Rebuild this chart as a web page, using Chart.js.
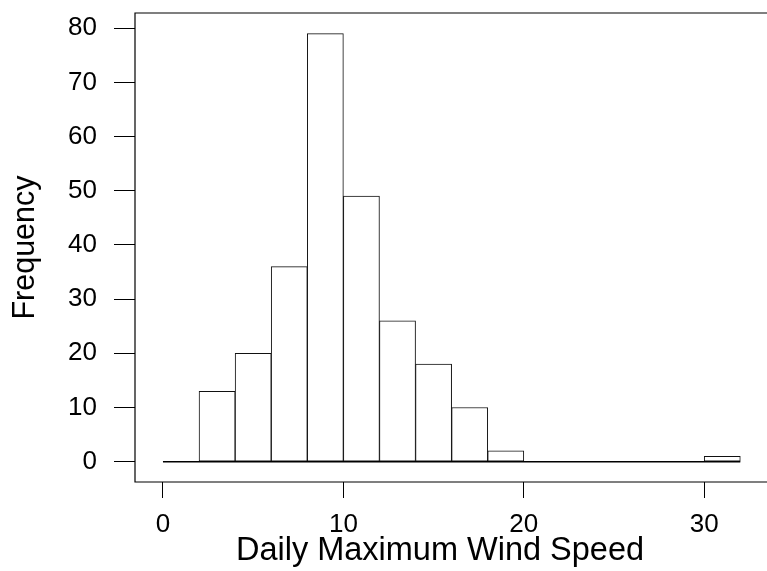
<!DOCTYPE html>
<html>
<head>
<meta charset="utf-8">
<script src="https://cdn.jsdelivr.net/npm/chart.js@4.4.0/dist/chart.umd.min.js"></script>
<style>
  body { margin: 0; background: #fff; }
  canvas { display: block; }
</style>
</head>
<body>
<canvas id="histChart" width="767" height="571"></canvas>
<script>
// histogram bins (width 2) and counts
const binEdges = [0, 2, 4, 6, 8, 10, 12, 14, 16, 18, 20, 22, 24, 26, 28, 30, 32];
const counts = [0, 13, 20, 36, 79, 49, 26, 18, 10, 2, 0, 0, 0, 0, 0, 1];
const xTicks = [0, 10, 20, 30];
const yTicks = [0, 10, 20, 30, 40, 50, 60, 70, 80];
const xLabel = 'Daily Maximum Wind Speed';
const yLabel = 'Frequency';

Chart.defaults.font.family = '"Liberation Sans", Arial, sans-serif';
Chart.defaults.color = '#000';

let bars = [];
for (let i = 0; i < counts.length; i++) {
	bars.push({ x: (binEdges[i] + binEdges[i + 1]) / 2, y: counts[i] });
}
let baseline = binEdges.map(e => ({ x: e, y: 0 }));

// R style box: top, left, bottom (right side is cut off in the picture)
const boxPlugin = {
	id: 'box',
	afterDraw(chart) {
		let ctx = chart.ctx;
		let a = chart.chartArea;
		ctx.save();
		ctx.strokeStyle = '#000';
		ctx.lineWidth = 1.2;
		ctx.beginPath();
		ctx.moveTo(chart.width, a.top);
		ctx.lineTo(a.left, a.top);
		ctx.lineTo(a.left, a.bottom);
		ctx.lineTo(chart.width, a.bottom);
		ctx.stroke();
		ctx.restore();
	}
};

function noPad(s) {
	s.paddingTop = 0;
	s.paddingBottom = 0;
	s.paddingLeft = 0;
	s.paddingRight = 0;
}

new Chart(document.getElementById('histChart'), {
	type: 'bar',
	data: {
		datasets: [{
			data: bars,
			backgroundColor: '#fff',
			borderColor: '#111',
			borderWidth: 1,
			borderSkipped: false,
			barPercentage: 1,
			categoryPercentage: 1,
			order: 2
		},
		{
			type: 'line',
			data: baseline,
			borderColor: '#000',
			borderWidth: 1.6,
			pointRadius: 0,
			order: 1
		}]
	},
	options: {
		responsive: false,
		animation: false,
		layout: { padding: { top: 13, right: 22, left: 0, bottom: 0 } },
		plugins: {
			legend: { display: false },
			tooltip: { enabled: false }
		},
		scales: {
			x: {
				type: 'linear',
				offset: false,
				min: -1.55,
				max: 32.26,
				afterBuildTicks: s => { s.ticks = xTicks.map(v => ({ value: v })); },
				afterFit: s => { s.height = 89; noPad(s); },
				border: { display: false },
				grid: {
					offset: false,
					drawOnChartArea: false,
					drawTicks: true,
					tickLength: 16,
					tickColor: '#000',
					tickWidth: 1
				},
				ticks: { font: { size: 26 }, padding: 11, maxRotation: 0 },
				title: {
					display: true,
					text: xLabel,
					font: { size: 32.5 },
					padding: { top: 0, bottom: 0 }
				}
			},
			y: {
				min: -3.75,
				max: 82.8,
				afterBuildTicks: s => { s.ticks = yTicks.map(v => ({ value: v })); },
				afterFit: s => { s.width = 135; noPad(s); },
				border: { display: false },
				grid: {
					drawOnChartArea: false,
					drawTicks: true,
					tickLength: 21,
					tickColor: '#000',
					tickWidth: 1
				},
				ticks: { font: { size: 26 }, padding: 17 },
				title: {
					display: true,
					text: yLabel,
					font: { size: 30.5 },
					padding: { top: 7, bottom: 0 }
				}
			}
		}
	},
	plugins: [boxPlugin]
});
</script>
</body>
</html>
